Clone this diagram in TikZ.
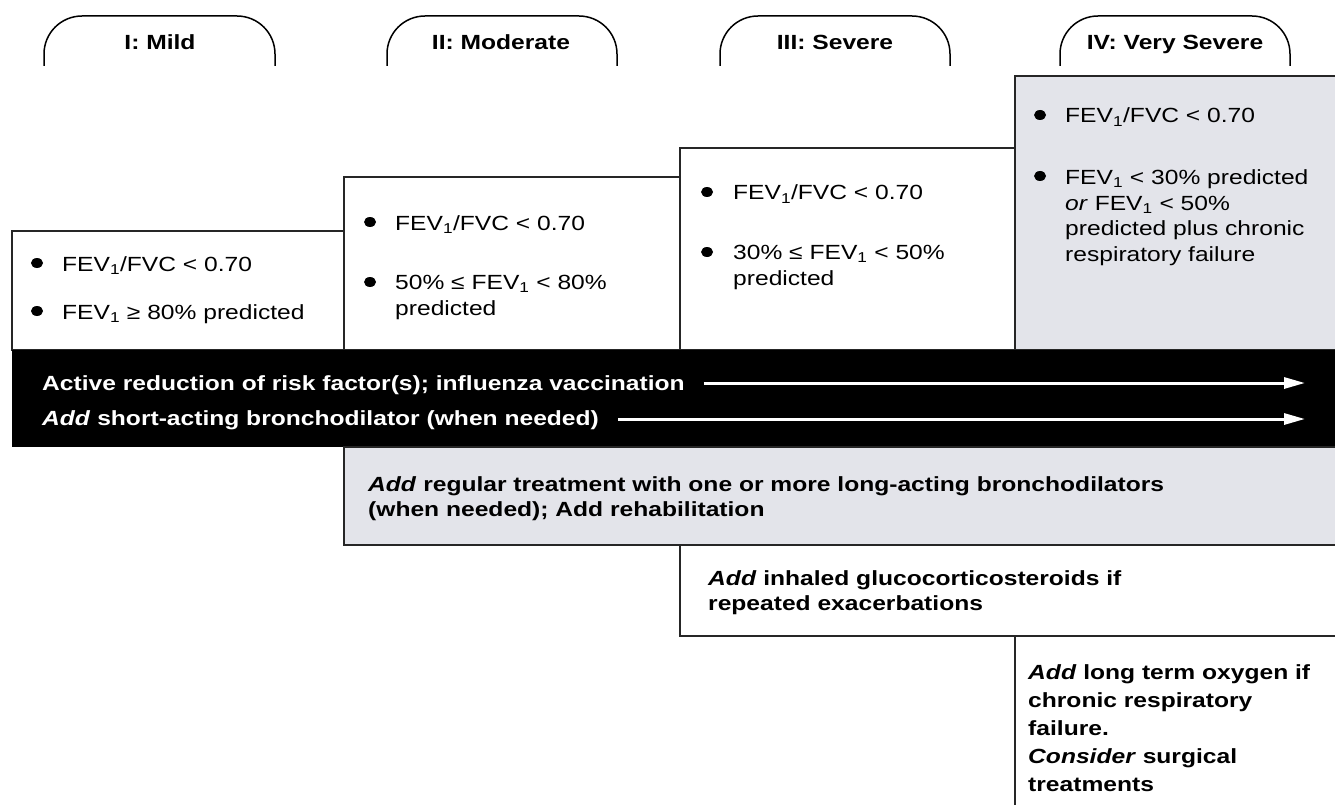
\documentclass[tikz,border=0pt]{standalone}
\usepackage{fontspec}
\setmainfont{Liberation Sans}[FakeStretch=1.2]
\usetikzlibrary{arrows.meta,shapes.geometric}
\definecolor{panelgray}{RGB}{227,228,234}

\begin{document}
\begin{tikzpicture}[x=1pt, y=-1pt,
  stage/.style={font=\fontsize{20.5}{25}\selectfont\bfseries, anchor=base, inner sep=0pt},
  tab/.style={line width=1.5pt, rounded corners=38pt},
  box/.style={draw=black!85, line width=1.3pt},
  dot/.style={ellipse, fill=black, inner sep=0pt, minimum width=12pt, minimum height=10pt},
  crit/.style={font=\fontsize{20.5}{25.5}\selectfont, anchor=base west, align=left, inner sep=0pt},
  treat/.style={font=\fontsize{20.5}{24.5}\selectfont\bfseries, anchor=base west, align=left, inner sep=0pt},
  band/.style={treat, text=white},
  flow/.style={white, line width=3pt, shorten <=19pt, -{Triangle[length=21pt,width=11pt]}}]

  \useasboundingbox (0,0) rectangle (1335,805);

  % --- stage tabs ---
  \draw[tab] (44,66) -- (44,16) -- (275,16) -- (275,66);
  \draw[tab] (387,66) -- (387,16) -- (617,16) -- (617,66);
  \draw[tab] (720,66) -- (720,16) -- (950,16) -- (950,66);
  \draw[tab] (1060,66) -- (1060,16) -- (1290,16) -- (1290,66);
  \node[stage] (mild) at (160,50) {I: Mild};
  \node[stage] (moderate) at (501,50) {II: Moderate};
  \node[stage] (severe) at (835,50) {III: Severe};
  \node[stage] (verysevere) at (1175,50) {IV: Very Severe};

  % --- criteria boxes (multi-line texts sit on their last baseline) ---
  \draw[box] (12,231) rectangle (344,350);
  \draw[box] (344,177) rectangle (680,350);
  \draw[box] (680,148) rectangle (1015,350);
  \draw[box, fill=panelgray] (1015,76) rectangle (1345,350);

  \node[dot] (mildA) at (37,263) {};
  \node[crit] (mildratio) at (62,271) {FEV\textsubscript{1}/FVC < 0.70};
  \node[dot] (mildB) at (37,311) {};
  \node[crit] (mildfev) at (62,319) {FEV\textsubscript{1} ≥ 80\% predicted};

  \node[dot] (modA) at (370,222) {};
  \node[crit] (modratio) at (395,230) {FEV\textsubscript{1}/FVC < 0.70};
  \node[dot] (modB) at (370,282) {};
  \node[crit] (modfev) at (395,315) {50\% ≤ FEV\textsubscript{1} < 80\%\\predicted};

  \node[dot] (sevA) at (707,192) {};
  \node[crit] (sevratio) at (733,200) {FEV\textsubscript{1}/FVC < 0.70};
  \node[dot] (sevB) at (707,252) {};
  \node[crit] (sevfev) at (733,285) {30\% ≤ FEV\textsubscript{1} < 50\%\\predicted};

  \node[dot] (vsevA) at (1040,115) {};
  \node[crit] (vsevratio) at (1065,123) {FEV\textsubscript{1}/FVC < 0.70};
  \node[dot] (vsevB) at (1040,176) {};
  \node[crit] (vsevfev) at (1065,261) {FEV\textsubscript{1} < 30\% predicted\\\textit{or} FEV\textsubscript{1} < 50\%\\predicted plus chronic\\respiratory failure};

  % --- black band ---
  \fill[black] (12,350) rectangle (1345,447);
  \node[band] (risk) at (42,390) {Active reduction of risk factor(s); influenza vaccination};
  \node[band] (shortacting) at (42,425) {\textit{Add} short-acting bronchodilator (when needed)};
  \coordinate (riskend) at (1305,383);
  \coordinate (shortend) at (1305,419);
  \draw[flow] (risk.east |- riskend) -- (riskend);
  \draw[flow] (shortacting.east |- shortend) -- (shortend);

  % --- treatment boxes ---
  \draw[box, fill=panelgray] (344,447) rectangle (1345,545);
  \node[treat] (regular) at (368,516) {\textit{Add} regular treatment with one or more long-acting bronchodilators\\(when needed); Add rehabilitation};

  \draw[box] (680,545) rectangle (1345,636);
  \node[treat] (steroid) at (708,610) {\textit{Add} inhaled glucocorticosteroids if\\repeated exacerbations};

  \draw[box] (1015,636) rectangle (1345,815);
  \node[treat, font=\fontsize{20.5}{28}\selectfont\bfseries] (oxygen) at (1028,791)
    {\textit{Add} long term oxygen if\\chronic respiratory\\failure.\\\textit{Consider} surgical\\treatments};

\end{tikzpicture}
\end{document}
